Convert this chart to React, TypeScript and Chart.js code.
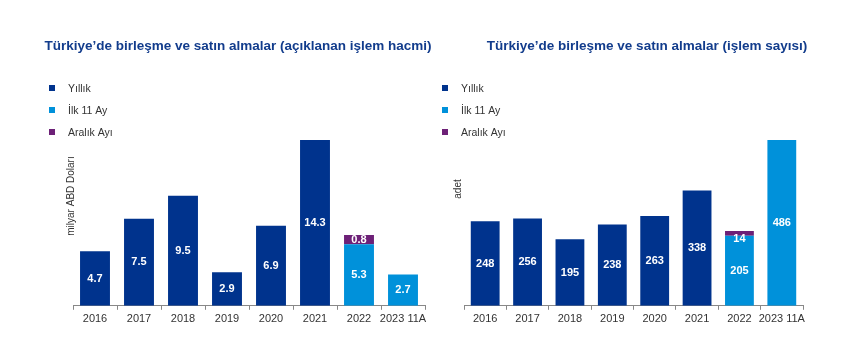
import React, { useEffect, useRef } from "react";
import { Chart, registerables } from "chart.js";

Chart.register(...registerables);

const categories = ["2016", "2017", "2018", "2019", "2020", "2021", "2022", "2023 11A"];
const seriesNames = ["Yıllık", "İlk 11 Ay", "Aralık Ayı"];

const volumeYearly = [4.7, 7.5, 9.5, 2.9, 6.9, 14.3, null, null];
const volumeFirst11 = [null, null, null, null, null, null, 5.3, 2.7];
const volumeDecember = [null, null, null, null, null, null, 0.8, null];

const countYearly = [248, 256, 195, 238, 263, 338, null, null];
const countFirst11 = [null, null, null, null, null, null, 205, 486];
const countDecember = [null, null, null, null, null, null, 14, null];

const COLORS = ["#00338D", "#0091DA", "#6D2077"];
const FONT = "'Liberation Sans', Arial, sans-serif";

type Props = {
  left: number;
  width: number;
  title: string;
  titleX: number;
  yLabel: string;
  yLabelX: number;
  yLabelY: number;
  legendX: number;
  data: (number | null)[][];
  decimals: number;
  pad: { left: number; right: number };
  decOffset: number;
};

function MnaChart(p: Props) {
  const ref = useRef<HTMLCanvasElement | null>(null);
  useEffect(() => {
    if (!ref.current) return;
    const totals = categories.map((_, i) =>
      p.data.reduce((s, arr) => s + (arr[i] ?? 0), 0)
    );
    const maxV = Math.max(...totals);

    const overlay = {
      id: "overlay",
      afterDraw(chart: any) {
        const ctx = chart.ctx;
        ctx.save();
        // title
        ctx.fillStyle = "#123C8C";
        ctx.font = `bold 13.5px ${FONT}`;
        ctx.textAlign = "center";
        ctx.textBaseline = "middle";
        ctx.fillText(p.title, p.titleX, 46);
        // legend
        ctx.textAlign = "left";
        ctx.font = `10.5px ${FONT}`;
        seriesNames.forEach((n, i) => {
          const y = 88 + i * 22;
          ctx.fillStyle = COLORS[i];
          ctx.fillRect(p.legendX - 3, y - 3, 6, 6);
          ctx.fillStyle = "#333333";
          ctx.fillText(n, p.legendX + 16, y + 1);
        });
        // y label
        ctx.save();
        ctx.translate(p.yLabelX, p.yLabelY);
        ctx.rotate(-Math.PI / 2);
        ctx.textAlign = "center";
        ctx.fillStyle = "#333333";
        ctx.font = `10px ${FONT}`;
        ctx.fillText(p.yLabel, 0, 0);
        ctx.restore();
        // value labels
        ctx.fillStyle = "#ffffff";
        ctx.font = `bold 11px ${FONT}`;
        ctx.textAlign = "center";
        chart.data.datasets.forEach((ds: any, di: number) => {
          const meta = chart.getDatasetMeta(di);
          meta.data.forEach((el: any, i: number) => {
            const v = ds.data[i];
            if (v === null || v === undefined) return;
            const off = di === 2 ? p.decOffset : 0;
            ctx.fillText(v.toFixed(p.decimals), el.x, (el.y + el.base) / 2 + off);
          });
        });
        ctx.restore();
      },
    };

    const chart = new Chart(ref.current, {
      type: "bar",
      data: {
        labels: categories,
        datasets: p.data.map((d, i) => ({
          label: seriesNames[i],
          data: d,
          backgroundColor: COLORS[i],
          borderWidth: 0,
          barPercentage: 0.68,
          categoryPercentage: 1,
        })),
      },
      options: {
        animation: false,
        responsive: false,
        maintainAspectRatio: false,
        layout: { padding: { top: 140, left: p.pad.left, right: p.pad.right, bottom: 33 } },
        plugins: { legend: { display: false }, tooltip: { enabled: false }, title: { display: false } },
        scales: {
          x: {
            stacked: true,
            grid: {
              display: true,
              drawOnChartArea: false,
              drawTicks: true,
              tickLength: 4,
              offset: true,
              color: "#888888",
            },
            border: { display: true, color: "#888888", width: 1 },
            ticks: { color: "#333333", font: { family: FONT, size: 11 }, padding: 3, maxRotation: 0, autoSkip: false },
          },
          y: { stacked: true, display: false, min: 0, max: maxV },
        },
      },
      plugins: [overlay],
    } as any);
    return () => chart.destroy();
  }, []);
  return (
    <canvas
      ref={ref}
      width={p.width}
      height={362}
      style={{ position: "absolute", left: p.left, top: 0, width: p.width, height: 362 }}
    />
  );
}

export default function App() {
  return (
    <div style={{ position: "fixed", left: 0, top: 0, width: 860, height: 362, background: "#ffffff" }}>
      <MnaChart
        left={0}
        width={445}
        title="Türkiye’de birleşme ve satın almalar (açıklanan işlem hacmi)"
        titleX={238}
        yLabel="milyar ABD Doları"
        yLabelX={71}
        yLabelY={196}
        legendX={52}
        data={[volumeYearly, volumeFirst11, volumeDecember]}
        decimals={1}
        pad={{ left: 73, right: 20 }}
        decOffset={0}
      />
      <MnaChart
        left={430}
        width={430}
        title="Türkiye’de birleşme ve satın almalar (işlem sayısı)"
        titleX={217}
        yLabel="adet"
        yLabelX={28}
        yLabelY={189}
        legendX={15}
        data={[countYearly, countFirst11, countDecember]}
        decimals={0}
        pad={{ left: 34, right: 57 }}
        decOffset={5}
      />
    </div>
  );
}
